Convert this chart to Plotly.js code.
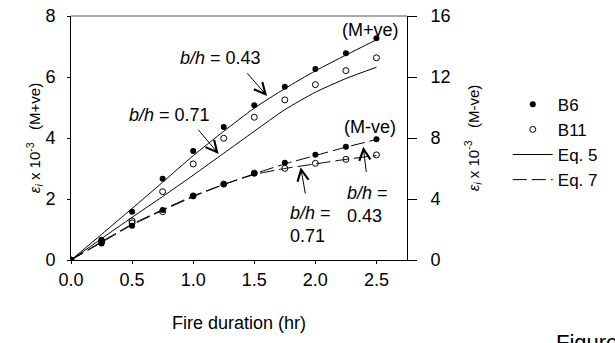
<!DOCTYPE html>
<html>
<head>
<meta charset="utf-8">
<script src="https://cdn.plot.ly/plotly-3.0.1.min.js"></script>
<style>html,body{margin:0;padding:0;background:#fff;}#chart{width:615px;height:343px;}</style>
</head>
<body>
<div id="chart"></div>
<script>
// Fire duration (hr)
const duration = [0, 0.25, 0.5, 0.75, 1.0, 1.25, 1.5, 1.75, 2.0, 2.25, 2.5];

// M+ve strains (x 10^-3), left axis
const b6Pos  = [0, 0.66, 1.58, 2.66, 3.57, 4.36, 5.07, 5.68, 6.26, 6.78, 7.27];
const b11Pos = [0, 0.60, 1.28, 2.24, 3.15, 3.99, 4.68, 5.25, 5.75, 6.21, 6.63];
const eq5_043 = [0, 0.84, 1.69, 2.55, 3.42, 4.22, 4.98, 5.62, 6.20, 6.72, 7.22];
const eq5_071 = [0, 0.70, 1.40, 2.08, 2.78, 3.50, 4.22, 4.93, 5.50, 5.95, 6.32];

// M-ve strains (x 10^-3), right axis
const b6Neg  = [0, 1.09, 2.25, 3.28, 4.20, 4.96, 5.68, 6.38, 6.90, 7.43, 7.91];
const b11Neg = [0, 1.25, 2.43, 3.17, 4.20, 4.98, 5.70, 6.01, 6.34, 6.60, 6.89];
const eq7_043 = [0, 1.15, 2.30, 3.25, 4.15, 4.95, 5.65, 6.30, 6.85, 7.40, 7.90];
const eq7_071 = [0, 1.20, 2.35, 3.30, 4.20, 4.95, 5.60, 6.00, 6.30, 6.60, 6.85];

const xTicks = [0, 0.5, 1.0, 1.5, 2.0, 2.5];
const xTickText = ['0.0', '0.5', '1.0', '1.5', '2.0', '2.5'];
const yTicks = [0, 2, 4, 6, 8];
const y2Ticks = [0, 4, 8, 12, 16];

const FONT = 'Arial, "Liberation Sans", sans-serif';
const FS = 18;

const solidLine = {color: '#000', width: 1};
const dashLine = {color: '#000', width: 1, dash: '14px,5px'};
const filled = {symbol: 'circle', size: 6, color: '#000', line: {color: '#000', width: 0}};
const open = {symbol: 'circle-open', size: 6, color: '#000', line: {color: '#000', width: 1}};

const traces = [
  {x: duration, y: b6Pos, mode: 'markers', name: 'B6', marker: filled, legendgroup: 'B6', showlegend: true},
  {x: duration, y: b11Pos, mode: 'markers', name: 'B11', marker: open, legendgroup: 'B11', showlegend: true},
  {x: duration, y: eq5_043, mode: 'lines', name: 'Eq. 5', line: Object.assign({shape: 'spline', smoothing: 0.6}, solidLine), legendgroup: 'Eq5', showlegend: true},
  {x: duration, y: eq7_043, yaxis: 'y2', mode: 'lines', name: 'Eq. 7', line: Object.assign({shape: 'spline', smoothing: 0.6}, dashLine), legendgroup: 'Eq7', showlegend: true},
  {x: duration, y: eq5_071, mode: 'lines', name: 'Eq. 5', line: Object.assign({shape: 'spline', smoothing: 0.6}, solidLine), legendgroup: 'Eq5', showlegend: false},
  {x: duration, y: eq7_071, yaxis: 'y2', mode: 'lines', name: 'Eq. 7', line: Object.assign({shape: 'spline', smoothing: 0.6}, dashLine), legendgroup: 'Eq7', showlegend: false},
  {x: duration, y: b6Neg, yaxis: 'y2', mode: 'markers', name: 'B6', marker: filled, legendgroup: 'B6', showlegend: false},
  {x: duration, y: b11Neg, yaxis: 'y2', mode: 'markers', name: 'B11', marker: open, legendgroup: 'B11', showlegend: false}
];

const annFont = {family: FONT, size: FS, color: '#000'};
function arrow(tx, ty, hx, hy) {
  return {x: hx, y: hy, ax: tx, ay: ty, xref: 'x', yref: 'y', axref: 'x', ayref: 'y', text: '',
    showarrow: true, arrowhead: 5, arrowsize: 2.2, arrowwidth: 1, arrowcolor: '#000', standoff: 0, startstandoff: 0};
}

const annotations = [
  {x: 1.22, y: 6.62, xref: 'x', yref: 'y', text: '<i>b/h</i> = 0.43', showarrow: false, font: annFont},
  {x: 0.81, y: 4.75, xref: 'x', yref: 'y', text: '<i>b/h</i> = 0.71', showarrow: false, font: annFont},
  {x: 2.45, y: 7.54, xref: 'x', yref: 'y', text: '(M+ve)', showarrow: false, font: annFont},
  {x: 2.45, y: 4.36, xref: 'x', yref: 'y', text: '(M-ve)', showarrow: false, font: annFont},
  {x: 2.245, y: 1.836, xref: 'x', yref: 'y', xanchor: 'left', align: 'left', text: '<i>b/h</i> =<br>0.43', showarrow: false, font: annFont},
  {x: 1.775, y: 1.15, xref: 'x', yref: 'y', xanchor: 'left', align: 'left', text: '<i>b/h</i> =<br>0.71', showarrow: false, font: annFont},
  arrow(1.432, 6.17, 1.605, 5.38),
  arrow(1.032, 4.32, 1.208, 3.475),
  arrow(1.92, 2.13, 1.88, 3.04),
  arrow(2.418, 2.84, 2.392, 3.715),
  {x: (565 - 71) / (615 - 71 - 201), y: -(329 - 260) / (260 - 16), xref: 'paper', yref: 'paper', text: 'Figure', showarrow: false,
   font: {family: FONT, size: 22, color: '#000'}, xanchor: 'left', yanchor: 'top', borderpad: 0}
];

const layout = {
  width: 615, height: 343,
  margin: {l: 71, r: 201, t: 16, b: 83},
  paper_bgcolor: '#fff', plot_bgcolor: '#fff',
  font: {family: FONT, size: FS, color: '#000'},
  showlegend: true,
  legend: {x: 1.3, y: 0.71, xanchor: 'left', yanchor: 'top', font: {family: FONT, size: 17}, bgcolor: 'rgba(0,0,0,0)', itemwidth: 40, tracegroupgap: 0},
  xaxis: {
    range: [0, 2.75], tickvals: xTicks, ticktext: xTickText, ticks: 'outside', ticklen: 3, tickcolor: '#000',
    showline: true, linecolor: '#000', linewidth: 1, mirror: false, showgrid: false, zeroline: false,
    tickfont: {family: FONT, size: FS},
    title: {text: 'Fire duration (hr)', font: {family: FONT, size: FS}, standoff: 27}
  },
  yaxis: {
    range: [0, 8], tickvals: yTicks, ticks: 'outside', ticklen: 3, tickcolor: '#000',
    showline: true, linecolor: '#000', linewidth: 1, showgrid: false, zeroline: false,
    tickfont: {family: FONT, size: FS}, ticklabelstandoff: 8,
    title: {text: '<i>ε<sub>i</sub></i> x 10<sup>-3</sup>&nbsp;&nbsp;&nbsp;(M+ve)', font: {family: FONT, size: 15}, standoff: 0}
  },
  yaxis2: {
    range: [0, 16], tickvals: y2Ticks, overlaying: 'y', side: 'right', ticks: 'outside', ticklen: 9, tickcolor: '#000',
    showline: true, linecolor: '#000', linewidth: 1, showgrid: false, zeroline: false,
    tickfont: {family: FONT, size: FS}, ticklabelstandoff: 10,
    title: {text: '<i>ε<sub>i</sub></i> x 10<sup>-3</sup>&nbsp;&nbsp;&nbsp;(M-ve)', font: {family: FONT, size: 15}, standoff: 18}
  },
  shapes: [
    {type: 'line', xref: 'paper', yref: 'paper', x0: 0, x1: 1, y0: 1, y1: 1, line: {color: '#555', width: 1}}
  ],
  annotations: annotations
};

Plotly.newPlot('chart', traces, layout, {staticPlot: true, displayModeBar: false});
</script>
</body>
</html>
